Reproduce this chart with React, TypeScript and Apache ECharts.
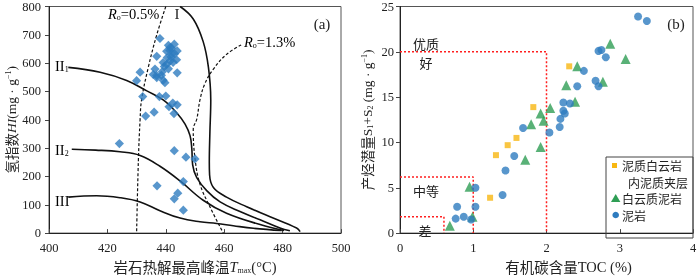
import React, { useEffect, useRef } from "react";
import * as echarts from "echarts";

// ---------- Data: (a) HI vs Tmax ----------
const tmaxTicks = [400, 420, 440, 460, 480, 500];
const hiTicks = [0, 100, 200, 300, 400, 500, 600, 700, 800];

const hiSamples: [number, number][] = [
  [438.0, 687], [442.9, 667], [440.9, 663], [441.5, 655], [443.9, 643], [441.4, 645],
  [442.1, 631], [436.9, 624], [443.7, 612], [442.5, 603], [439.1, 602], [440.3, 596],
  [440.9, 580], [436.3, 579], [443.9, 566], [438.8, 570], [431.2, 568], [435.7, 560],
  [436.9, 549], [439.1, 540], [430.0, 538], [439.7, 531], [432.1, 482], [437.8, 482],
  [440.0, 484], [441.1, 446], [443.9, 453], [442.8, 422], [436.0, 427], [433.1, 413],
  [442.4, 459], [424.1, 316], [442.9, 291], [446.9, 268], [450.0, 262], [446.0, 182],
  [437.0, 167], [444.1, 141], [442.9, 121], [446.0, 81], [440.5, 620], [441.8, 622],
  [439.5, 588], [438.5, 557], [441.5, 608], [443.0, 633], [442.0, 653], [440.3, 642],
  [436.9, 556],
];

const curveI: [number, number][] = [
  [444.9, 800], [449.4, 756], [452.8, 676], [454.6, 585], [455.4, 470], [455.1, 355],
  [454.9, 250], [455.0, 205], [456.3, 161], [460.8, 127], [467.7, 93], [475.7, 58],
  [484.8, 18], [486.0, 5],
];
const curveII1: [number, number][] = [
  [406.6, 585], [417.5, 568], [426.6, 539], [433.5, 502], [439.1, 470], [443.7, 425],
  [446.6, 385], [448.3, 344], [448.9, 299], [449.2, 241], [450.6, 196], [454.0, 150],
  [458.6, 110], [465.4, 76], [472.3, 47], [479.1, 18], [482.5, 8],
];
const curveII2: [number, number][] = [
  [407.8, 296], [416.0, 293], [424.3, 287], [431.2, 274], [438.0, 236], [444.9, 184],
  [452.8, 116], [460.8, 70], [472.3, 30], [480.5, 9],
];
const curveIII: [number, number][] = [
  [406.6, 127], [416.3, 132], [424.3, 125], [431.2, 110], [438.0, 79], [444.9, 53],
  [451.7, 40], [457.4, 34], [463.1, 26], [470.0, 17], [479.7, 9],
];
const ro05: [number, number][] = [
  [440.0, 800], [436.9, 700], [434.0, 585], [431.7, 470], [431.2, 402], [430.6, 253], [430.0, 0],
];
const ro13: [number, number][] = [
  [465.8, 664], [460.8, 631], [456.3, 579], [453.4, 528], [451.7, 470], [450.6, 402],
  [449.4, 367], [450.0, 264], [451.7, 173], [455.1, 93], [459.7, 0],
];

// ---------- Data: (b) S1+S2 vs TOC ----------
const tocTicks = [0, 1, 2, 3, 4];
const s12Ticks = [0, 5, 10, 15, 20, 25];

const doloInterlayer: [number, number][] = [
  [2.31, 18.4], [1.82, 13.9], [1.59, 10.5], [1.47, 9.7], [1.31, 8.6], [1.23, 3.9],
];
const doloMudstone: [number, number][] = [
  [2.87, 20.9], [3.08, 19.2], [2.42, 18.4], [2.77, 16.7], [2.27, 16.3], [2.39, 14.5],
  [2.05, 13.8], [1.92, 13.2], [1.96, 12.4], [1.79, 12.0], [1.71, 8.1], [1.92, 9.5],
  [0.95, 5.1], [0.99, 1.8], [0.68, 0.8],
];
const mudstone: [number, number][] = [
  [3.25, 23.9], [3.37, 23.4], [2.71, 20.1], [2.75, 20.2], [2.81, 19.4], [2.51, 17.9],
  [2.67, 16.8], [2.71, 16.2], [2.42, 16.2], [2.23, 14.4], [2.32, 14.3], [2.23, 13.5],
  [2.25, 13.2], [2.19, 12.6], [2.18, 11.7], [1.68, 11.6], [2.04, 11.1], [1.56, 8.5],
  [1.44, 6.9], [1.03, 5.0], [1.40, 4.2], [1.03, 2.9], [0.78, 2.9], [0.87, 1.8],
  [0.76, 1.6], [0.97, 1.5],
];
const excellentBound: [number, number][] = [[0, 20], [2, 20], [2, 0]];
const fairBound: [number, number][] = [[0, 6.2], [1, 6.2], [1, 0]];
const poorBound: [number, number][] = [[0, 1.8], [0.6, 1.8], [0.6, 0]];

const legendNames = ["泥质白云岩", "内泥质夹层", "白云质泥岩", "泥岩"];

const SERIF = "'Liberation Serif', 'Times New Roman', serif";
const CJK = "'Noto Sans CJK SC', sans-serif";
const BLUE = "#2e7cbf";
const GREEN = "#2f9e55";
const YELLOW = "#f8b712";
const RED = "#ff1f1f";
const INK = "#111";

const makeRich = (fs: number) => ({
  c: { fontFamily: CJK, fontSize: fs, color: "#222" },
  n: { fontFamily: SERIF, fontSize: fs, color: "#222" },
  i: { fontFamily: SERIF, fontSize: fs, fontStyle: "italic", color: "#222" },
  sub: { fontFamily: SERIF, fontSize: 8, color: "#222", verticalAlign: "bottom", padding: [6, 0, 0, 0] },
  sup: { fontFamily: SERIF, fontSize: 8, color: "#222", verticalAlign: "top", padding: [0, 0, 6, 0] },
});
const rich = makeRich(14.5);
const richY = makeRich(13.5);

export default function App() {
  const ref = useRef<HTMLDivElement>(null);
  useEffect(() => {
    const chart = echarts.init(ref.current!, null, { renderer: "svg" });
    const curveStyle = { color: INK, width: 1.6 };
    const dashStyle = { color: INK, width: 1.2, type: [3, 2] };
    const redStyle = { color: RED, width: 1.5, type: [2, 2] };
    const line = (data: [number, number][], idx: number, style: any, smooth = 0.4) => ({
      type: "line",
      xAxisIndex: idx,
      yAxisIndex: idx,
      data,
      showSymbol: false,
      smooth,
      lineStyle: style,
      silent: true,
      z: 2,
    });
    const xAxisBase = {
      type: "value",
      splitLine: { show: false },
      axisLine: { lineStyle: { color: "#222" } },
      axisTick: { inside: true, length: 4, lineStyle: { color: "#444" } },
      axisLabel: { fontFamily: SERIF, fontSize: 12.5, color: "#222", margin: 8 },
      nameLocation: "middle",
      nameTextStyle: { rich },
    };
    const yAxisBase = {
      type: "value",
      splitLine: { show: false },
      axisLine: { lineStyle: { color: "#222" } },
      axisTick: { inside: false, length: 4, lineStyle: { color: "#444" } },
      axisLabel: { fontFamily: SERIF, fontSize: 12.5, color: "#222", margin: 8 },
      nameLocation: "middle",
      nameRotate: 90,
      nameTextStyle: { rich: richY },
    };
    const legendFont = `12px ${CJK}`;
    chart.setOption({
      animation: false,
      textStyle: { fontFamily: SERIF },
      grid: [
        { left: 49, top: 4, width: 292, height: 233, show: true, borderColor: "#555", borderWidth: 1 },
        { left: 400, top: 5, width: 293, height: 233, show: true, borderColor: "#555", borderWidth: 1 },
      ],
      xAxis: [
        {
          ...xAxisBase, gridIndex: 0, min: tmaxTicks[0], max: tmaxTicks[tmaxTicks.length - 1], interval: 20,
          name: "{c|岩石热解最高峰温}{i|T}{sub|max}{n|(°C)}", nameGap: 22,
        },
        {
          ...xAxisBase, gridIndex: 1, min: tocTicks[0], max: tocTicks[tocTicks.length - 1], interval: 1,
          name: "{c|有机碳含量}{n|TOC (%)}", nameGap: 22,
          nameTextStyle: { rich, padding: [0, 0, 0, 44] },
        },
      ],
      yAxis: [
        {
          ...yAxisBase, gridIndex: 0, min: hiTicks[0], max: hiTicks[hiTicks.length - 1], interval: 100,
          name: "{c|氢指数}{i|HI}{n|(mg · g}{sup|−1}{n|)}", nameGap: 31,
        },
        {
          ...yAxisBase, gridIndex: 1, min: s12Ticks[0], max: s12Ticks[s12Ticks.length - 1], interval: 5,
          axisLabel: { fontFamily: SERIF, fontSize: 12.5, color: "#222", margin: 6 },
          name: "{c|产烃潜量}{n|S}{sub|1}{n|+S}{sub|2}{n| (mg · g}{sup|−1}{n|)}", nameGap: 26,
        },
      ],
      series: [
        line(curveI, 0, curveStyle),
        line(curveII1, 0, curveStyle),
        line(curveII2, 0, curveStyle),
        line(curveIII, 0, curveStyle),
        line(ro05, 0, dashStyle),
        line(ro13, 0, dashStyle),
        {
          type: "scatter", xAxisIndex: 0, yAxisIndex: 0, data: hiSamples,
          symbol: "rect", symbolRotate: 45, symbolSize: 6.5, itemStyle: { color: BLUE }, z: 3,
        },
        line(excellentBound, 1, redStyle, 0),
        line(fairBound, 1, redStyle, 0),
        line(poorBound, 1, redStyle, 0),
        {
          type: "scatter", name: legendNames[0], xAxisIndex: 1, yAxisIndex: 1, data: doloInterlayer,
          symbol: "rect", symbolSize: 6, itemStyle: { color: YELLOW }, z: 3,
        },
        {
          type: "scatter", name: legendNames[2], xAxisIndex: 1, yAxisIndex: 1, data: doloMudstone,
          symbol: "triangle", symbolSize: 10, itemStyle: { color: GREEN }, z: 3,
        },
        {
          type: "scatter", name: legendNames[3], xAxisIndex: 1, yAxisIndex: 1, data: mudstone,
          symbol: "circle", symbolSize: 8, itemStyle: { color: BLUE }, z: 4,
        },
      ],
      graphic: [
        // panel (a) annotations
        { type: "text", x: 177, y: 14, style: { text: "I", font: `15px ${SERIF}`, fill: "#222", align: "center", verticalAlign: "middle" } },
        {
          type: "text", x: 55, y: 66,
          style: { text: "{n|II}{sub|1}", rich, align: "left", verticalAlign: "middle" },
        },
        {
          type: "text", x: 55, y: 150,
          style: { text: "{n|II}{sub|2}", rich, align: "left", verticalAlign: "middle" },
        },
        {
          type: "text", x: 55, y: 201,
          style: { text: "{n|III}", rich, align: "left", verticalAlign: "middle" },
        },
        {
          type: "text", x: 108, y: 14,
          style: { text: "{i|R}{sub|o}{n|=0.5%}", rich, align: "left", verticalAlign: "middle" },
        },
        {
          type: "text", x: 244, y: 42,
          style: { text: "{i|R}{sub|o}{n|=1.3%}", rich, align: "left", verticalAlign: "middle" },
        },
        { type: "text", x: 322, y: 24, style: { text: "(a)", font: `15px ${SERIF}`, fill: "#222", align: "center", verticalAlign: "middle" } },
        // panel (b) annotations
        { type: "text", x: 676, y: 24, style: { text: "(b)", font: `15px ${SERIF}`, fill: "#222", align: "center", verticalAlign: "middle" } },
        { type: "text", x: 426, y: 43, style: { text: "优质", font: `13px ${CJK}`, fill: "#222", align: "center", verticalAlign: "middle" } },
        { type: "text", x: 426, y: 62, style: { text: "好", font: `13px ${CJK}`, fill: "#222", align: "center", verticalAlign: "middle" } },
        { type: "text", x: 426, y: 190, style: { text: "中等", font: `13px ${CJK}`, fill: "#222", align: "center", verticalAlign: "middle" } },
        { type: "text", x: 425, y: 230, style: { text: "差", font: `13px ${CJK}`, fill: "#222", align: "center", verticalAlign: "middle" } },
        // legend box
        { type: "rect", shape: { x: 606, y: 157, width: 87, height: 81 }, style: { fill: "none", stroke: "#444", lineWidth: 1 }, z: 10 },
        { type: "rect", shape: { x: 612, y: 163, width: 5, height: 5 }, style: { fill: YELLOW }, z: 10 },
        { type: "text", x: 622, y: 165, style: { text: legendNames[0], font: legendFont, fill: "#222", align: "left", verticalAlign: "middle" }, z: 10 },
        { type: "text", x: 628, y: 182, style: { text: legendNames[1], font: legendFont, fill: "#222", align: "left", verticalAlign: "middle" }, z: 10 },
        { type: "polygon", shape: { points: [[615.7, 194], [620.4, 202], [611, 202]] }, style: { fill: GREEN }, z: 10 },
        { type: "text", x: 622, y: 198, style: { text: legendNames[2], font: legendFont, fill: "#222", align: "left", verticalAlign: "middle" }, z: 10 },
        { type: "circle", shape: { cx: 615.7, cy: 215, r: 3.3 }, style: { fill: BLUE }, z: 10 },
        { type: "text", x: 622, y: 215, style: { text: legendNames[3], font: legendFont, fill: "#222", align: "left", verticalAlign: "middle" }, z: 10 },
      ],
    });
    return () => chart.dispose();
  }, []);
  return <div ref={ref} style={{ position: "fixed", left: 0, top: 0, width: 700, height: 279 }} />;
}
